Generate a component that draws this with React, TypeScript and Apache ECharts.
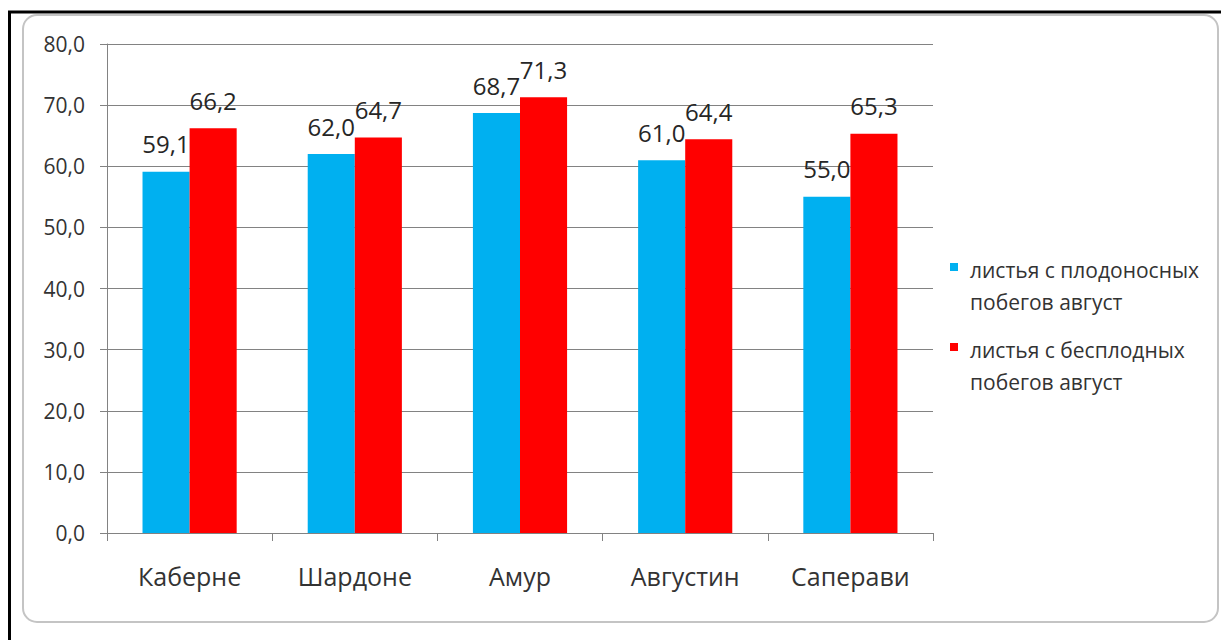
import { useEffect, useRef } from "react";
import * as echarts from "echarts";

// Grape varieties on the category axis
const categories = ["Каберне", "Шардоне", "Амур", "Августин", "Саперави"];
// Leaves from fruiting shoots, August
const fruitingShoots = [59.1, 62.0, 68.7, 61.0, 55.0];
// Leaves from barren shoots, August
const barrenShoots = [66.2, 64.7, 71.3, 64.4, 65.3];
const seriesNames = [
  "листья с плодоносных побегов август",
  "листья с бесплодных побегов август",
];
const seriesColors = ["#00B0F0", "#FF0000"];
const yMin = 0;
const yMax = 80;
const yStep = 10;

const FONT = "'Open Sans', 'Noto Sans', sans-serif";
const GRID_COLOR = "#828282";
const TEXT_COLOR = "#333333";

// Decimal comma, one digit after it
const fmt = (v: number) => v.toFixed(1).replace(".", ",");

// Legend marker: a square beside the first text line, the degenerate
// sub-paths only stretch the bounding box to the full item size.
const LEGEND_ICON =
  "path://M0,0H0.01V0.01H0Z M0,9H8V17H0Z M15,64H14.99V63.99H15Z";

export default function App() {
  const ref = useRef<HTMLDivElement>(null);

  useEffect(() => {
    if (!ref.current) return;
    const chart = echarts.init(ref.current, null, { renderer: "svg" });

    const makeSeries = (name: string, data: number[], color: string) => ({
      name,
      type: "bar" as const,
      data,
      barGap: "0%",
      barCategoryGap: "43%",
      itemStyle: { color },
      label: {
        show: true,
        position: "top" as const,
        distance: 16,
        fontFamily: FONT,
        fontSize: 24,
        color: "#262626",
        formatter: (p: any) => fmt(p.value),
      },
    });

    chart.setOption({
      animation: false,
      backgroundColor: "#ffffff",
      textStyle: { fontFamily: FONT },
      graphic: [
        {
          type: "line",
          shape: { x1: 8, y1: 12, x2: 1221, y2: 12 },
          style: { stroke: "#000000", lineWidth: 3 },
          silent: true,
        },
        {
          type: "line",
          shape: { x1: 9.5, y1: 11, x2: 9.5, y2: 640 },
          style: { stroke: "#000000", lineWidth: 3 },
          silent: true,
        },
        {
          type: "rect",
          shape: { x: 23, y: 15, width: 1195, height: 607, r: 14 },
          style: {
            fill: "none",
            stroke: "#c4c4c4",
            lineWidth: 2,
          },
          silent: true,
          z: -1,
        },
      ],
      legend: {
        orient: "vertical",
        left: 945,
        top: 249,
        itemWidth: 15,
        itemHeight: 64,
        itemGap: 16,
        icon: LEGEND_ICON,
        selectedMode: false,
        data: seriesNames,
        formatter: (name: string) => name.replace(" побегов", "\nпобегов"),
        textStyle: {
          fontFamily: FONT,
          fontSize: 21,
          lineHeight: 32,
          color: TEXT_COLOR,
        },
      },
      grid: { left: 107, right: 288, top: 44, bottom: 107, containLabel: false },
      xAxis: {
        type: "category",
        data: categories,
        axisLine: { lineStyle: { color: GRID_COLOR, width: 1 } },
        axisTick: { show: true, length: 8, lineStyle: { color: GRID_COLOR } },
        axisLabel: {
          margin: 30,
          fontFamily: FONT,
          fontSize: 25,
          color: TEXT_COLOR,
        },
      },
      yAxis: {
        type: "value",
        min: yMin,
        max: yMax,
        interval: yStep,
        axisLine: { show: true, lineStyle: { color: GRID_COLOR, width: 1 } },
        axisTick: { show: true, length: 7, lineStyle: { color: GRID_COLOR } },
        splitLine: { lineStyle: { color: GRID_COLOR, width: 1 } },
        axisLabel: {
          margin: 22,
          fontFamily: FONT,
          fontSize: 21,
          color: TEXT_COLOR,
          formatter: (v: number) => fmt(v),
        },
      },
      series: [
        makeSeries(seriesNames[0], fruitingShoots, seriesColors[0]),
        makeSeries(seriesNames[1], barrenShoots, seriesColors[1]),
      ],
    });

    return () => chart.dispose();
  }, []);

  return (
    <div
      ref={ref}
      style={{ position: "fixed", left: 0, top: 0, width: 1221, height: 640 }}
    />
  );
}
